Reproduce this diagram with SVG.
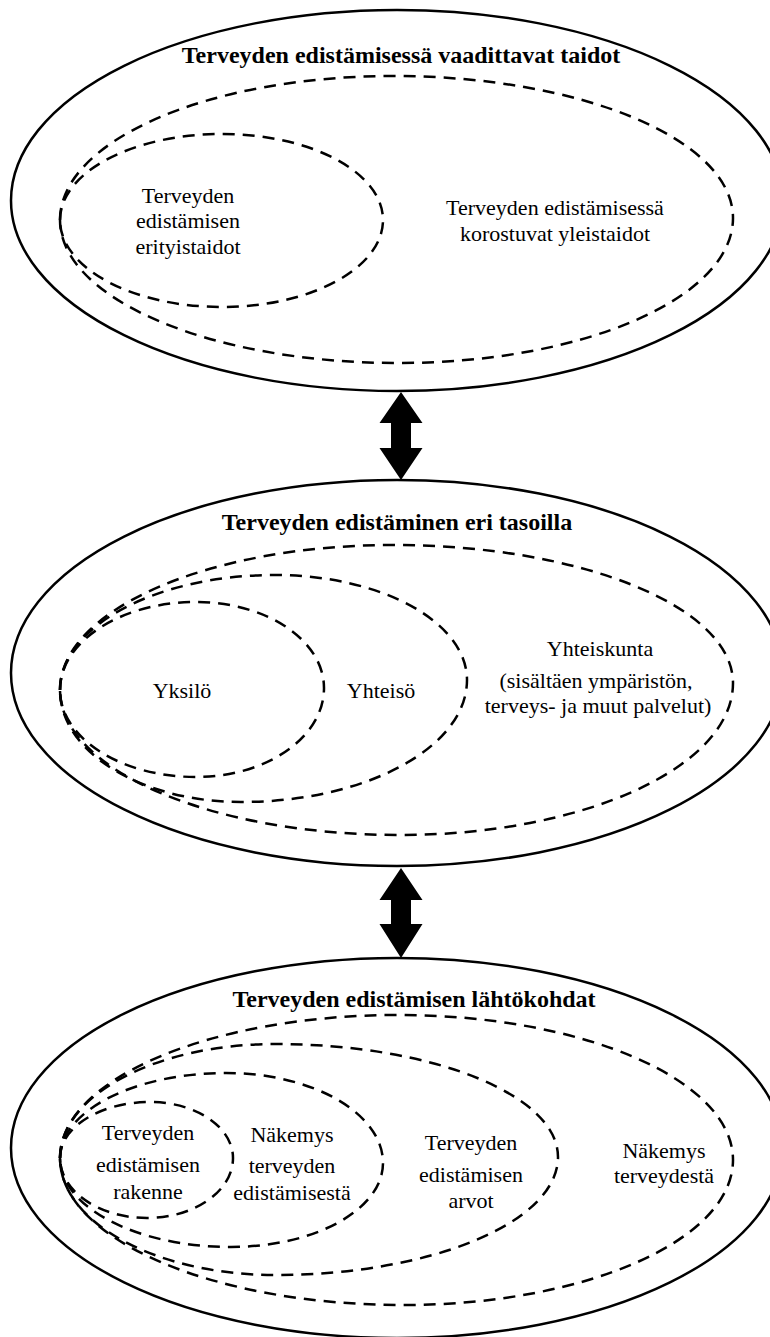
<svg xmlns="http://www.w3.org/2000/svg" width="770" height="1337" viewBox="0 0 770 1337">
<style>
.outer{fill:none;stroke:#000;stroke-width:2.5}
.dash{fill:none;stroke:#000;stroke-width:2.5;stroke-dasharray:12 8}
.title{font-family:"Liberation Serif","Times New Roman",serif;font-size:24px;font-weight:bold;text-anchor:middle;fill:#000}
.lbl{font-family:"Liberation Serif","Times New Roman",serif;font-size:22px;text-anchor:middle;fill:#000}
.arrow{fill:#000}
</style>
<rect width="770" height="1337" fill="#fff"/>
<g id="section-taidot">
  <ellipse class="outer" cx="397" cy="200.5" rx="386" ry="190.5"/>
  <text class="title" x="401" y="63">Terveyden edistämisessä vaadittavat taidot</text>
</g>
<g id="node-yleistaidot">
  <path class="dash" d="M60,220 C60,140.5 209.1,76 393,76 C580.8,76 733,139.6 733,218 C733,298.1 583,363 398,363 C211.3,363 60,299 60,220Z"/>
  <text class="lbl" x="555" y="215">Terveyden edistämisessä</text>
  <text class="lbl" x="555" y="241">korostuvat yleistaidot</text>
</g>
<g id="node-erityistaidot">
  <path class="dash" d="M60,220 C60,172.5 132.5,134 222,134 C310.9,134 383,172.5 383,220 C383,268 310.9,307 222,307 C132.5,307 60,268 60,220Z"/>
  <text class="lbl" x="188" y="203">Terveyden</text>
  <text class="lbl" x="188" y="228">edistämisen</text>
  <text class="lbl" x="188" y="254">erityistaidot</text>
</g>
<g id="section-tasot">
  <ellipse class="outer" cx="397" cy="673" rx="386" ry="193"/>
  <text class="title" x="397" y="530">Terveyden edistäminen eri tasoilla</text>
</g>
<g id="node-yhteiskunta">
  <path class="dash" d="M60,690 C60,609.9 209.1,545 393,545 C580.8,545 733,606.8 733,683 C733,766.9 583.9,835 400,835 C212.2,835 60,770.1 60,690Z"/>
  <text class="lbl" x="600" y="656">Yhteiskunta</text>
  <text class="lbl" x="596" y="688">(sisältäen ympäristön,</text>
  <text class="lbl" x="598" y="713">terveys- ja muut palvelut)</text>
</g>
<g id="node-yhteiso">
  <path class="dash" d="M60,690 C60,626.5 156.3,575 275,575 C381,575 467,622 467,680 C467,747.4 365.8,802 241,802 C141,802 60,751.9 60,690Z"/>
  <text class="lbl" x="381" y="698">Yhteisö</text>
</g>
<g id="node-yksilo">
  <path class="dash" d="M60,690 C60,641.4 120.9,602 196,602 C266.7,602 324,640.5 324,688 C324,737.2 266.7,777 196,777 C120.9,777 60,738 60,690Z"/>
  <text class="lbl" x="182" y="698">Yksilö</text>
</g>
<g id="section-lahtokohdat">
  <ellipse class="outer" cx="397" cy="1148" rx="386" ry="190"/>
  <text class="title" x="414" y="1007">Terveyden edistämisen lähtökohdat</text>
</g>
<g id="node-nakemys-terveydesta">
  <path class="dash" d="M60,1158 C60,1079 211.3,1015 398,1015 C583,1015 733,1079.9 733,1160 C733,1240.1 585.3,1305 403,1305 C213.6,1305 60,1239.2 60,1158Z"/>
  <text class="lbl" x="664" y="1158">Näkemys</text>
  <text class="lbl" x="664" y="1183">terveydestä</text>
</g>
<g id="node-arvot">
  <path class="dash" d="M60,1158 C60,1095 156.3,1044 275,1044 C431.3,1044 558,1094.6 558,1157 C558,1222.2 431.3,1275 275,1275 C156.3,1275 60,1222.6 60,1158Z"/>
  <text class="lbl" x="471" y="1150">Terveyden</text>
  <text class="lbl" x="471" y="1182">edistämisen</text>
  <text class="lbl" x="471" y="1208">arvot</text>
</g>
<g id="node-nakemys-edistamisesta">
  <path class="dash" d="M60,1158 C60,1111.1 134.3,1073 226,1073 C312.7,1073 383,1113.3 383,1163 C383,1209.4 314.9,1247 231,1247 C136.6,1247 60,1207.2 60,1158Z"/>
  <text class="lbl" x="292" y="1142">Näkemys</text>
  <text class="lbl" x="292" y="1173">terveyden</text>
  <text class="lbl" x="292" y="1200">edistämisestä</text>
</g>
<g id="node-rakenne">
  <path class="dash" d="M60,1158 C60,1127.1 100.3,1102 150,1102 C195.8,1102 233,1127.1 233,1158 C233,1191.1 194.5,1218 147,1218 C99,1218 60,1191.1 60,1158Z"/>
  <text class="lbl" x="148" y="1140">Terveyden</text>
  <text class="lbl" x="148" y="1172">edistämisen</text>
  <text class="lbl" x="148" y="1199">rakenne</text>
</g>
<g id="connectors">
  <polygon class="arrow" points="401,392 422.5,423 411,423 411,448 422.5,448 401,480 379.5,448 391,448 391,423 379.5,423"/>
  <polygon class="arrow" points="401,868 422.5,900 411,900 411,924 422.5,924 401,958 379.5,924 391,924 391,900 379.5,900"/>
</g>
</svg>
